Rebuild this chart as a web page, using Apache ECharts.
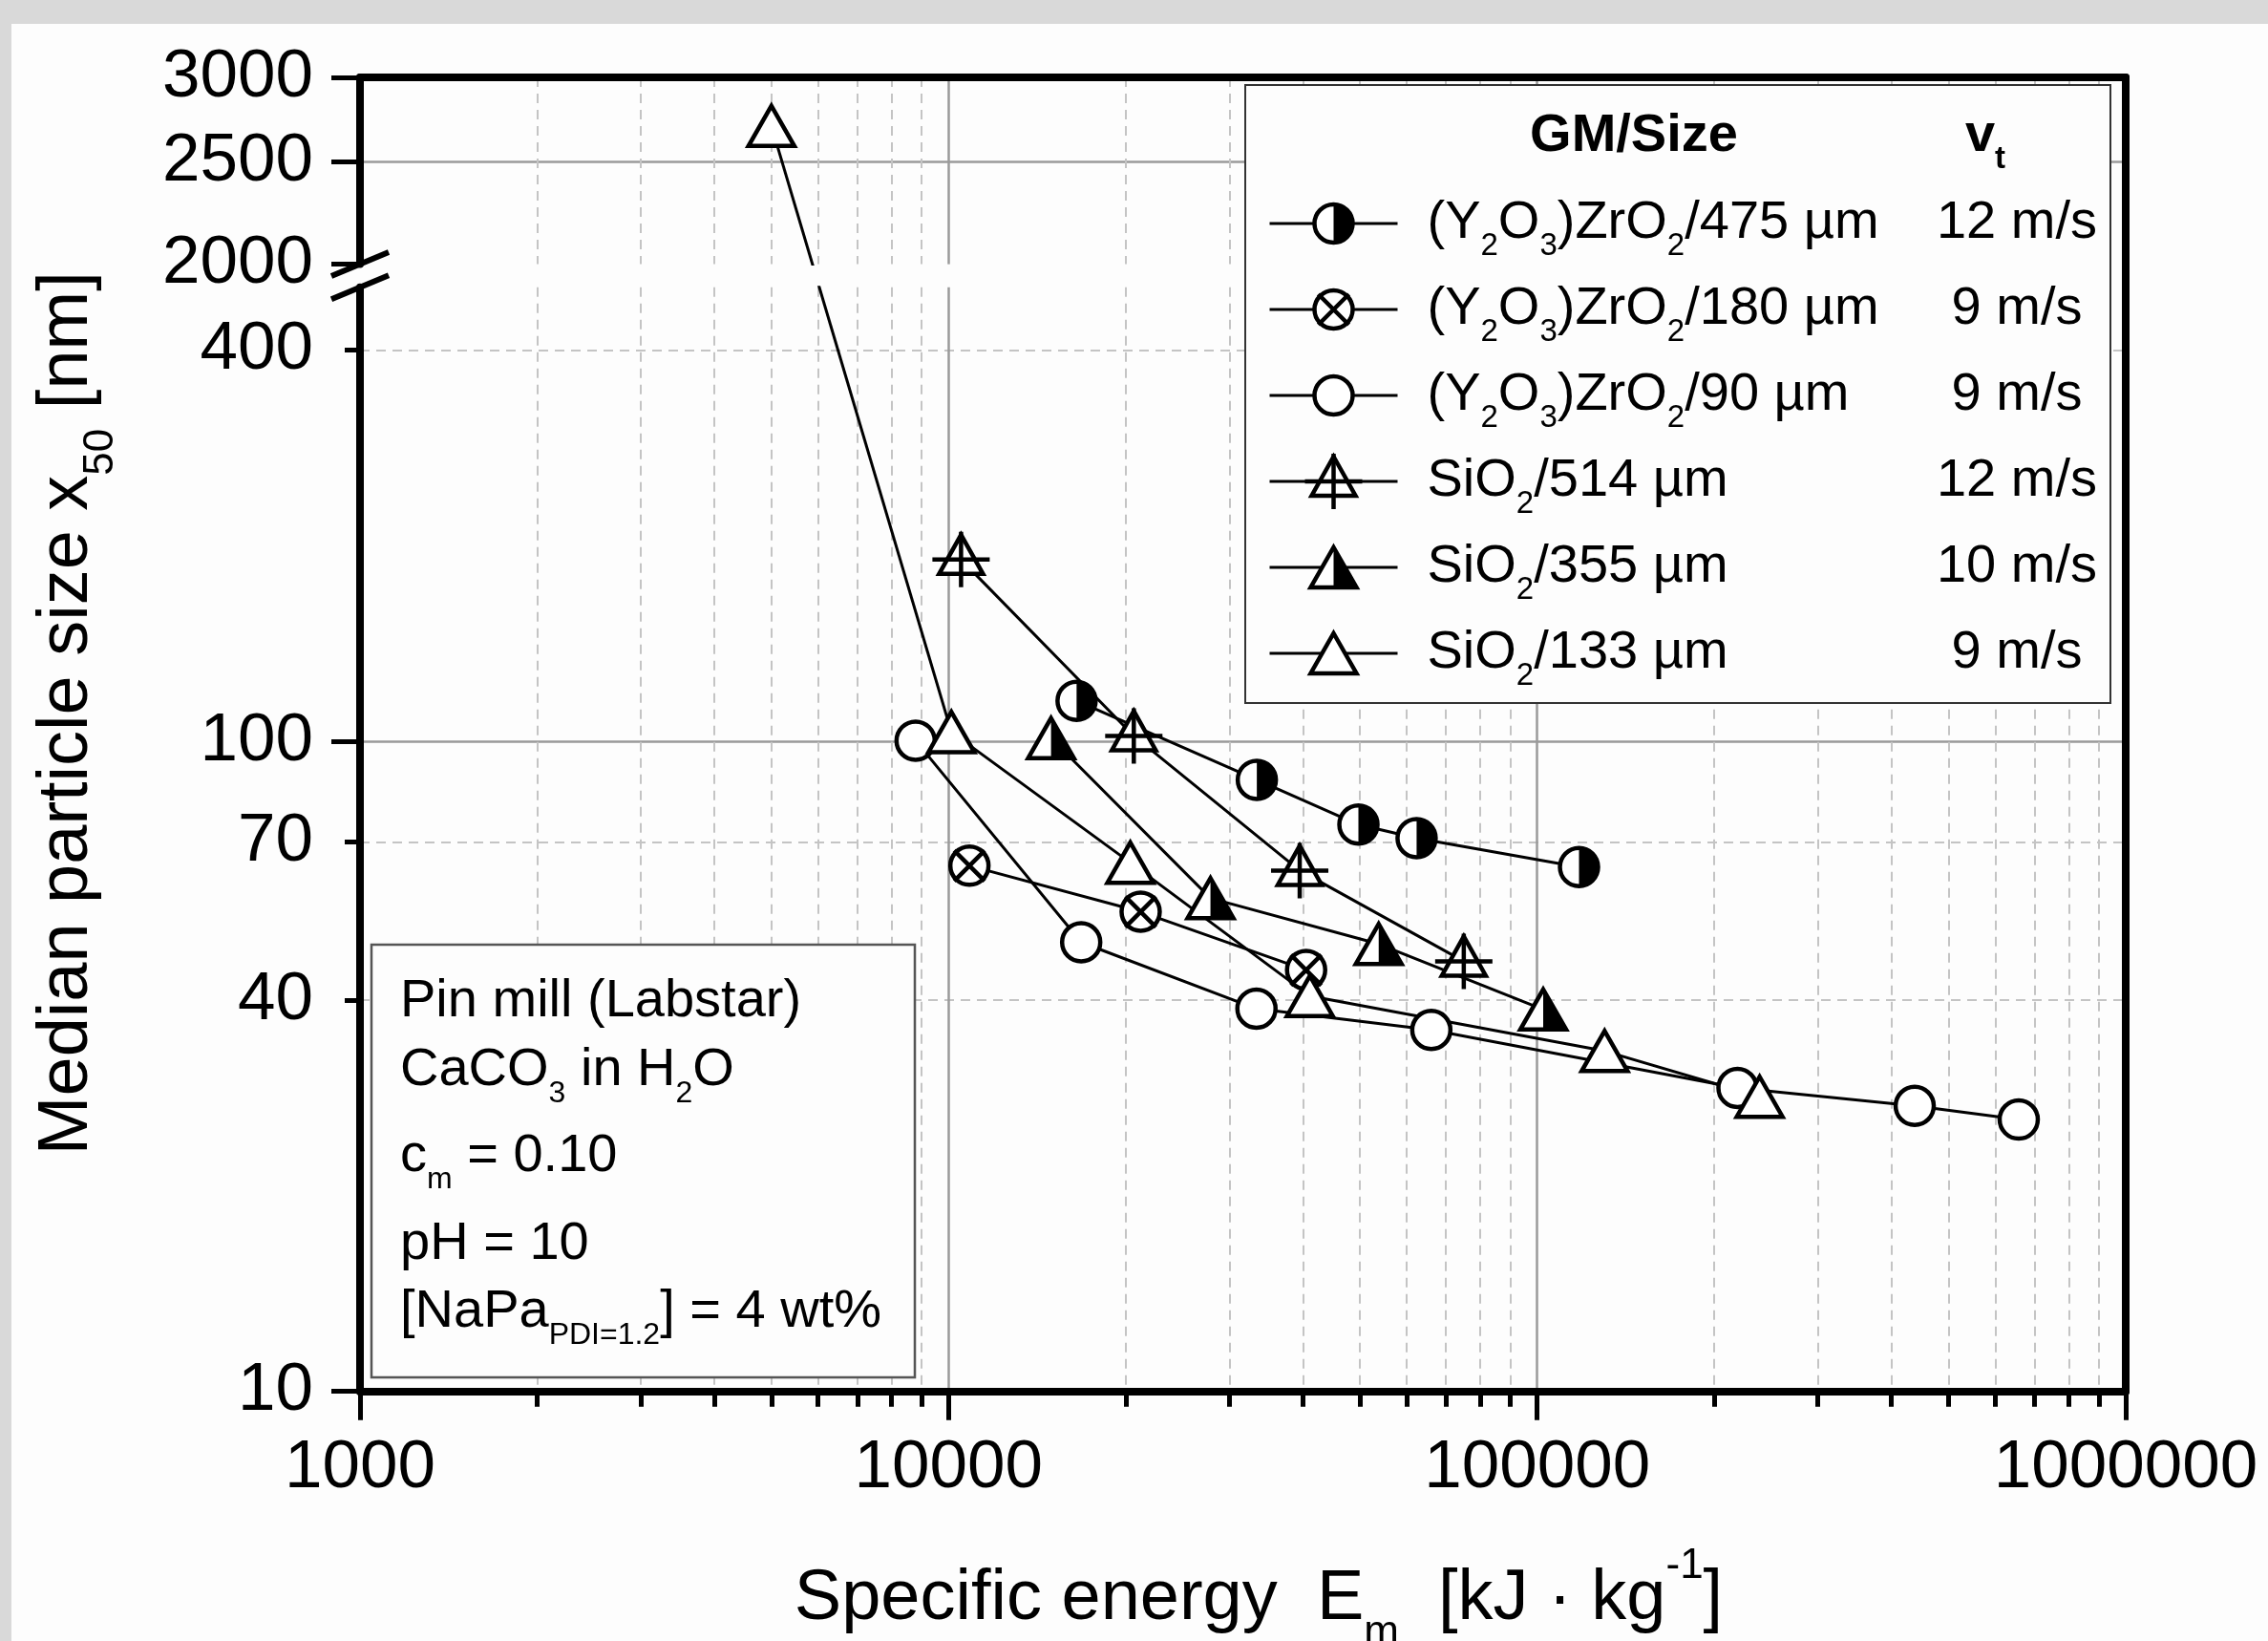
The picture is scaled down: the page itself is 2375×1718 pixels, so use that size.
<!DOCTYPE html>
<html>
<head>
<meta charset="utf-8">
<script src="https://cdn.jsdelivr.net/npm/echarts@6.0.0/dist/echarts.min.js"></script>
<style>
html, body { margin: 0; padding: 0; background: #d9d9d9; }
#panel { position: absolute; left: 12px; top: 25px; right: 0; bottom: 0; background: #fdfdfd; }
#chart { position: absolute; left: 0; top: 0; width: 2375px; height: 1718px; }
</style>
</head>
<body>
<div id="panel"></div>
<div id="chart"></div>
<script>
// series labels (legend)
var names = ['(Y2O3)ZrO2/475 µm', '(Y2O3)ZrO2/180 µm', '(Y2O3)ZrO2/90 µm',
             'SiO2/514 µm', 'SiO2/355 µm', 'SiO2/133 µm'];
var nameLabels = ['(Y{s|2}O{s|3})ZrO{s|2}/475 µm', '(Y{s|2}O{s|3})ZrO{s|2}/180 µm', '(Y{s|2}O{s|3})ZrO{s|2}/90 µm',
                  'SiO{s|2}/514 µm', 'SiO{s|2}/355 µm', 'SiO{s|2}/133 µm'];
var speeds = ['12 m/s', '9 m/s', '9 m/s', '12 m/s', '10 m/s', '9 m/s'];

// specific energy [kJ/kg] and x50 [nm]
var zr475X = [16500, 33400, 49700, 62400, 117800];
var zr475Y = [115.5, 87.3, 74.5, 71.0, 64.1];
var zr180X = [10850, 21200, 40500];
var zr180Y = [64.4, 54.7, 44.5];
var zr90X = [8790, 16800, 33350, 66100, 219000, 438000, 658000];
var zr90Y = [100.3, 49.1, 38.8, 36.0, 29.3, 27.5, 26.2];
var si514X = [10500, 20640, 39500, 75050];
var si514Y = [190.5, 102, 63.3, 45.9];
var si355X = [14930, 27860, 53800, 102400];
var si355Y = [101.2, 57.4, 48.8, 38.7];
var si133X = [5000, 10110, 20360, 41100, 130200, 238800];
var si133Y = [2700, 103.4, 65.1, 40.6, 33.4, 28.4];

// axes
var xRange = [1000, 1000000];
var yTopRange = [2000, 3000];     // upper part of the broken axis
var yBotRange = [10, 500];        // lower part
var yTopTicks = [2000, 2500, 3000];
var yTopGrid = [2500];
var yBotMajor = [10, 100];
var yBotMinor = [40, 70, 400];

var seriesX = [zr475X, zr180X, zr90X, si514X, si355X, si133X];
var seriesY = [zr475Y, zr180Y, zr90Y, si514Y, si355Y, si133Y];

var FONT = 'Liberation Sans, Arial, sans-serif';

function svgSym(body) {
  return 'image://data:image/svg+xml;charset=utf-8,' + encodeURIComponent(
    '<svg xmlns="http://www.w3.org/2000/svg" width="64" height="64" viewBox="-32 -32 64 64">' + body + '</svg>');
}
var ST = ' fill="#fff" stroke="#000" stroke-width="4.5"';
var symbols = [
  svgSym('<circle r="20"' + ST + '/><path d="M0,-20A20,20 0 0 1 0,20Z" fill="#000"/>'),
  svgSym('<circle r="20"' + ST + '/><path d="M-16,-16L16,16M16,-16L-16,16" stroke="#000" stroke-width="4.5"/>'),
  svgSym('<circle r="20"' + ST + '/>'),
  svgSym('<path d="M0,-26L23,15H-23Z"' + ST + '/><path d="M0,-29V29M-30,0H30" stroke="#000" stroke-width="4.5"/>'),
  svgSym('<path d="M0,-21L24,21H-24Z"' + ST + '/><path d="M0,-21L24,21H0Z" fill="#000"/>'),
  svgSym('<path d="M0,-21L24,21H-24Z"' + ST + '/>')
];

// plot frame in page pixels
var PL = 377, PR = 2226, W = 2375;
var TOP_Y0 = 81, TOP_Y1 = 276.6, BOT_Y0 = 300.7, BOT_Y1 = 1456.7;

var majorGrid = { show: true, lineStyle: { color: '#9a9a9a', width: 2.5, type: 'solid' } };
var minorGrid = { show: true, lineStyle: { color: '#c4c4c4', width: 2, type: [10, 7] } };
var noGrid = { show: false };
var axisLineStyle = { show: true, onZero: false, lineStyle: { color: '#000', width: 8 } };
var tickFmt = function (v) { return String(Math.round(v)); };
var labelStyle = { color: '#000', fontFamily: FONT, fontSize: 71, formatter: tickFmt };

var xAxes = [
  { gridIndex: 0, type: 'log', logBase: 10, min: xRange[0], max: xRange[1], position: 'top',
    axisLine: axisLineStyle, axisTick: { show: false }, axisLabel: { show: false },
    minorTick: { show: false, splitNumber: 9 }, splitLine: majorGrid, minorSplitLine: minorGrid },
  { gridIndex: 1, type: 'log', logBase: 10, min: xRange[0], max: xRange[1], position: 'bottom',
    axisLine: axisLineStyle,
    axisTick: { show: true, inside: false, length: 30, lineStyle: { color: '#000', width: 5 } },
    minorTick: { show: true, splitNumber: 9, length: 16, lineStyle: { color: '#000', width: 5 } },
    axisLabel: Object.assign({ margin: 45 }, labelStyle),
    splitLine: majorGrid, minorSplitLine: minorGrid,
    name: 'Specific energy  E{s|m}  [kJ · kg{p|-1}]', nameLocation: 'middle', nameGap: 161,
    nameTextStyle: { color: '#000', fontFamily: FONT, fontSize: 74, lineHeight: 114, padding: [0, 0, 0, 33],
      rich: { s: { fontSize: 44, lineHeight: 30, verticalAlign: 'bottom' },
              p: { fontSize: 44, lineHeight: 48, verticalAlign: 'top' } } } },
  // frame only (right spine over the full height)
  { gridIndex: 2, type: 'value', show: false }
];

var yAxes = [
  // 0: upper part, labels
  { gridIndex: 0, type: 'log', min: yTopRange[0], max: yTopRange[1], position: 'left',
    axisLine: axisLineStyle,
    axisTick: { show: true, length: 30, customValues: yTopTicks, lineStyle: { color: '#000', width: 5 } },
    axisLabel: Object.assign({ margin: 49, customValues: yTopTicks }, labelStyle),
    splitLine: noGrid },
  // 1: upper part, grid line
  { gridIndex: 0, type: 'log', min: yTopRange[0], max: yTopRange[1], position: 'left',
    axisLine: { show: false }, axisTick: { show: false, customValues: yTopGrid },
    axisLabel: { show: false, customValues: yTopGrid }, splitLine: majorGrid },
  // 2: bridge axis across the break (upper part)
  { gridIndex: 0, type: 'log', min: 1, max: 10000, show: false },
  // 3: lower part, major
  { gridIndex: 1, type: 'log', min: yBotRange[0], max: yBotRange[1], position: 'left',
    axisLine: axisLineStyle,
    axisTick: { show: true, length: 30, customValues: yBotMajor, lineStyle: { color: '#000', width: 5 } },
    axisLabel: Object.assign({ margin: 49, customValues: yBotMajor }, labelStyle),
    splitLine: majorGrid,
    name: 'Median particle size x{s|50} [nm]', nameLocation: 'middle', nameRotate: 90, nameGap: 249,
    nameTextStyle: { color: '#000', fontFamily: FONT, fontSize: 74, lineHeight: 114, padding: [0, 0, 0, 264],
      rich: { s: { fontSize: 44, lineHeight: 30, verticalAlign: 'bottom' } } } },
  // 4: lower part, minor
  { gridIndex: 1, type: 'log', min: yBotRange[0], max: yBotRange[1], position: 'left',
    axisLine: { show: false },
    axisTick: { show: true, length: 16, customValues: yBotMinor, lineStyle: { color: '#000', width: 5 } },
    axisLabel: Object.assign({ margin: 49, customValues: yBotMinor }, labelStyle),
    splitLine: minorGrid },
  // 5: bridge axis across the break (lower part)
  { gridIndex: 1, type: 'log', min: 1, max: 10000, show: false },
  // 6: right spine, full height
  { gridIndex: 2, type: 'value', min: 0, max: 1, position: 'right',
    axisLine: axisLineStyle, axisTick: { show: false }, axisLabel: { show: false }, splitLine: noGrid }
];

function lineSeries(name, data, sym, xi, yi, z) {
  return { name: name, type: 'line', xAxisIndex: xi, yAxisIndex: yi, data: data,
    symbol: sym, symbolSize: 64, showAllSymbol: true, z: z,
    lineStyle: { color: '#000', width: 3 }, itemStyle: { color: '#000' },
    emphasis: { disabled: true } };
}

var series = [];
var bridges = [];
seriesX.forEach(function (xs, k) {
  var ys = seriesY[k];
  var low = [], high = [];
  xs.forEach(function (x, i) {
    if (ys[i] >= yTopRange[0]) high.push([x, ys[i]]); else low.push([x, ys[i]]);
    if (i + 1 < xs.length && (ys[i] >= yTopRange[0]) !== (ys[i + 1] >= yTopRange[0])) {
      bridges.push([[x, ys[i]], [xs[i + 1], ys[i + 1]]]);
    }
  });
  series.push(lineSeries(names[k], low, symbols[k], 1, 3, 2));
  if (high.length) series.push(lineSeries(names[k] + ' (upper)', high, symbols[k], 0, 0, 2));
});
// the segment that crosses the axis break, drawn in both parts
if (bridges.length) {
  series.push(lineSeries('bridge-top', bridges[0], 'none', 0, 2, 1));
  series.push(lineSeries('bridge-bottom', bridges[0], 'none', 1, 5, 1));
}

var boxText = ['Pin mill (Labstar)', 'CaCO{s|3} in H{s|2}O', 'c{s|m} = 0.10', 'pH = 10',
               '[NaPa{s|PDI=1.2}] = 4 wt%'];
var boxY = [1049, 1121, 1211, 1303, 1374];
var boxRich = { s: { fontSize: 32, lineHeight: 18, verticalAlign: 'bottom', fontFamily: FONT, fill: '#000' } };

var graphics = [
  { type: 'line', z: 50, shape: { x1: PL - 30, y1: TOP_Y1 + 12.5, x2: PL + 30, y2: TOP_Y1 - 12.5 },
    style: { stroke: '#000', lineWidth: 6 } },
  { type: 'line', z: 50, shape: { x1: PL - 30, y1: BOT_Y0 + 12.5, x2: PL + 30, y2: BOT_Y0 - 12.5 },
    style: { stroke: '#000', lineWidth: 6 } },
  { type: 'rect', z: 3, shape: { x: 1304, y: 89, width: 906, height: 647 },
    style: { fill: '#fdfdfd', stroke: '#333', lineWidth: 2 } },
  { type: 'text', z: 5, x: 1711, y: 143,
    style: { text: 'GM/Size', fontFamily: FONT, fontSize: 56, fontWeight: 'bold', fill: '#000',
             align: 'center', verticalAlign: 'middle' } },
  { type: 'text', z: 5, x: 2079, y: 143,
    style: { text: 'v{t|t}', fontFamily: FONT, fontSize: 56, fontWeight: 'bold', fill: '#000', lineHeight: 80,
             align: 'center', verticalAlign: 'middle',
             rich: { t: { fontSize: 33, fontWeight: 'bold', lineHeight: 20, verticalAlign: 'bottom', fontFamily: FONT } } } },
  { type: 'rect', z: 3, shape: { x: 389, y: 989, width: 569, height: 453 },
    style: { fill: '#fdfdfd', stroke: '#555', lineWidth: 2.5 } }
];
boxText.forEach(function (t, i) {
  graphics.push({ type: 'text', z: 5, x: 419, y: boxY[i],
    style: { text: t, fontFamily: FONT, fontSize: 56, fill: '#000', lineHeight: 80,
             align: 'left', verticalAlign: 'middle', rich: boxRich } });
});

var option = {
  animation: false,
  backgroundColor: 'transparent',
  grid: [
    { left: PL, right: W - PR, top: TOP_Y0, height: TOP_Y1 - TOP_Y0, containLabel: false, outerBoundsMode: 'none' },
    { left: PL, right: W - PR, top: BOT_Y0, height: BOT_Y1 - BOT_Y0, containLabel: false, outerBoundsMode: 'none' },
    { left: PL, right: W - PR, top: TOP_Y0, height: BOT_Y1 - TOP_Y0, containLabel: false, outerBoundsMode: 'none' }
  ],
  xAxis: xAxes,
  yAxis: yAxes,
  legend: [
    { data: names, orient: 'vertical', left: 1328, top: 194, padding: 0, itemWidth: 134, itemHeight: 80,
      itemGap: 10, align: 'left', selectedMode: false, z: 6,
      lineStyle: { width: 3, color: '#000' },
      formatter: function (n) { return nameLabels[names.indexOf(n)]; },
      textStyle: { color: '#000', fontFamily: FONT, fontSize: 56, lineHeight: 80, padding: [0, 0, 0, 26],
        rich: { s: { fontSize: 33, lineHeight: 20, verticalAlign: 'bottom', fontFamily: FONT, color: '#000' } } } },
    { data: names, orient: 'vertical', left: 2006, top: 194, padding: 0, itemWidth: 1, itemHeight: 80,
      itemGap: 10, icon: 'rect', selectedMode: false, z: 6,
      itemStyle: { color: 'rgba(0,0,0,0)', borderWidth: 0 },
      formatter: function (n) { return '{v|' + speeds[names.indexOf(n)] + '}'; },
      textStyle: { color: '#000', fontFamily: FONT, fontSize: 56, lineHeight: 80,
        rich: { v: { width: 200, align: 'center', fontSize: 56, lineHeight: 80, fontFamily: FONT, color: '#000' } } } }
  ],
  graphic: { elements: graphics },
  series: series
};

var chart = echarts.init(document.getElementById('chart'));
chart.setOption(option);

// fit the bridge axes so the crossing segment is one straight line on screen
if (bridges.length) {
  var up = bridges[0][0][1] >= yTopRange[0] ? bridges[0][0] : bridges[0][1];
  var lo = up === bridges[0][0] ? bridges[0][1] : bridges[0][0];
  var p1 = chart.convertToPixel({ xAxisIndex: 0, yAxisIndex: 0 }, up)[1];
  var p2 = chart.convertToPixel({ xAxisIndex: 1, yAxisIndex: 3 }, lo)[1];
  var lv1 = Math.log10(up[1]);
  var perDecade = (p2 - p1) / (lv1 - Math.log10(lo[1]));
  var tTop = chart.convertToPixel({ xAxisIndex: 0, yAxisIndex: 0 }, [xRange[0], yTopRange[1]])[1];
  var tBot = chart.convertToPixel({ xAxisIndex: 0, yAxisIndex: 0 }, [xRange[0], yTopRange[0]])[1];
  var bTop = chart.convertToPixel({ xAxisIndex: 1, yAxisIndex: 3 }, [xRange[0], yBotRange[1]])[1];
  var bBot = chart.convertToPixel({ xAxisIndex: 1, yAxisIndex: 3 }, [xRange[0], yBotRange[0]])[1];
  var upd = yAxes.map(function () { return {}; });
  upd[2] = { max: Math.pow(10, lv1 + (p1 - tTop) / perDecade), min: Math.pow(10, lv1 - (tBot - p1) / perDecade) };
  upd[5] = { max: Math.pow(10, lv1 + (p1 - bTop) / perDecade), min: Math.pow(10, lv1 - (bBot - p1) / perDecade) };
  chart.setOption({ yAxis: upd });
}
</script>
</body>
</html>
